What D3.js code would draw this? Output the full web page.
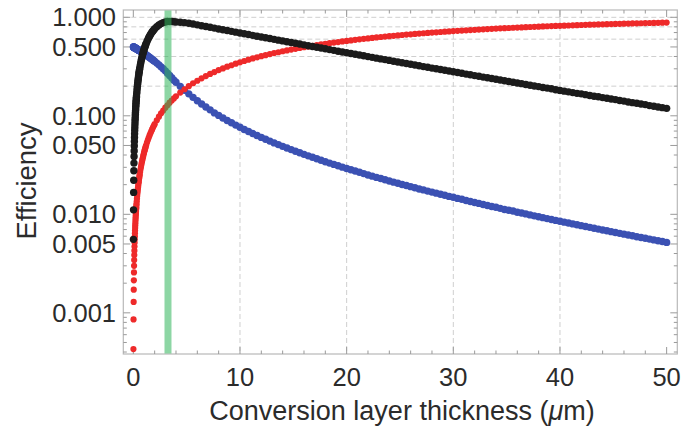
<!DOCTYPE html>
<html>
<head>
<meta charset="utf-8">
<script src="https://cdn.jsdelivr.net/npm/d3@7"></script>
<style>
  body { margin: 0; background: #ffffff; }
  svg { display: block; }
  text { font-family: "Liberation Sans", Arial, sans-serif; fill: #2b2b2b; }
</style>
</head>
<body>
<svg id="chart" width="691" height="430"></svg>
<script>
// Conversion layer thickness in micrometres (finer steps near zero).
const thickness = [
  0.01,0.02,0.03,0.04,0.05,0.06,0.07,0.08,0.09,0.10,0.11,0.12,0.13,0.14,0.15,
  0.16,0.17,0.18,0.19,0.20,0.21,0.22,0.23,0.24,0.25,0.26,0.27,0.28,0.29,0.30,
  0.32,0.34,0.36,0.38,0.40,0.42,0.44,0.46,0.48,0.50,0.52,0.54,0.56,0.58,0.60,
  0.64,0.68,0.72,0.76,0.80,0.84,0.88,0.92,0.96,1.00,1.04,1.08,1.12,1.16,1.20,
  1.28,1.36,1.44,1.52,1.60,1.68,1.76,1.84,1.92,2.00,
  2.2,2.4,2.6,2.8,3.0,3.2,3.4,3.6,3.8,4.0,
  4.4,4.8,5.2,5.6,6.0,6.4,6.8,7.2,7.6,8.0,8.4,8.8,9.2,9.6,10.0,
  10.4,10.8,11.2,11.6,12.0,12.4,12.8,13.2,13.6,14.0,14.4,14.8,15.2,15.6,16.0,
  16.4,16.8,17.2,17.6,18.0,18.4,18.8,19.2,19.6,20.0,
  20.4,20.8,21.2,21.6,22.0,22.4,22.8,23.2,23.6,24.0,24.4,24.8,25.2,25.6,26.0,
  26.4,26.8,27.2,27.6,28.0,28.4,28.8,29.2,29.6,30.0,
  30.4,30.8,31.2,31.6,32.0,32.4,32.8,33.2,33.6,34.0,34.4,34.8,35.2,35.6,36.0,
  36.4,36.8,37.2,37.6,38.0,38.4,38.8,39.2,39.6,40.0,
  40.4,40.8,41.2,41.6,42.0,42.4,42.8,43.2,43.6,44.0,44.4,44.8,45.2,45.6,46.0,
  46.4,46.8,47.2,47.6,48.0,48.4,48.8,49.2,49.6,50.0
];

// Red series: fraction converted in the layer.
const conversion = [
  0.000429,0.000858,0.00129,0.00172,0.00214,0.00257,0.00300,0.00343,0.00386,0.00428,
  0.00471,0.00514,0.00556,0.00599,0.00642,0.00684,0.00727,0.00770,0.00812,0.00855,
  0.00897,0.00940,0.00982,0.0102,0.0107,0.0111,0.0115,0.0119,0.0124,0.0128,
  0.0136,0.0145,0.0153,0.0162,0.0170,0.0179,0.0187,0.0195,0.0204,0.0212,0.0221,0.0229,0.0237,0.0246,0.0254,
  0.0271,0.0288,0.0304,0.0321,0.0338,0.0354,0.0371,0.0387,0.0404,0.0420,0.0437,0.0453,0.0469,0.0486,0.0502,
  0.0535,0.0567,0.0599,0.0632,0.0664,0.0696,0.0728,0.0759,0.0791,0.0823,
  0.0901,0.0979,0.106,0.113,0.121,0.128,0.136,0.143,0.150,0.158,
  0.172,0.186,0.200,0.214,0.227,0.240,0.253,0.266,0.278,0.291,0.303,0.315,0.326,0.338,0.349,
  0.360,0.371,0.382,0.392,0.403,0.413,0.423,0.433,0.442,0.452,0.461,0.470,0.479,0.488,0.497,
  0.505,0.514,0.522,0.530,0.538,0.546,0.554,0.561,0.569,0.576,
  0.583,0.590,0.597,0.604,0.611,0.618,0.624,0.631,0.637,0.643,0.649,0.655,0.661,0.667,0.672,
  0.678,0.683,0.689,0.694,0.699,0.704,0.709,0.714,0.719,0.724,
  0.729,0.733,0.738,0.742,0.747,0.751,0.755,0.759,0.764,0.768,0.772,0.775,0.779,0.783,0.787,
  0.790,0.794,0.797,0.801,0.804,0.808,0.811,0.814,0.817,0.820,
  0.823,0.826,0.829,0.832,0.835,0.838,0.841,0.843,0.846,0.849,0.851,0.854,0.856,0.859,0.861,
  0.864,0.866,0.868,0.870,0.873,0.875,0.877,0.879,0.881,0.883
];

// Blue series: fraction escaping the layer.
const escape = [
  0.499,0.499,0.498,0.497,0.496,0.496,0.495,0.494,0.494,0.493,0.492,0.491,0.491,0.490,0.489,
  0.489,0.488,0.487,0.486,0.486,0.485,0.484,0.484,0.483,0.482,0.481,0.481,0.480,0.479,0.479,
  0.477,0.476,0.474,0.473,0.471,0.470,0.469,0.467,0.466,0.464,0.463,0.461,0.460,0.459,0.457,
  0.454,0.451,0.449,0.446,0.443,0.440,0.437,0.434,0.431,0.429,0.426,0.423,0.420,0.417,0.414,
  0.409,0.403,0.397,0.391,0.386,0.380,0.374,0.369,0.363,0.357,
  0.343,0.329,0.314,0.300,0.286,0.271,0.257,0.243,0.230,0.219,
  0.199,0.182,0.167,0.154,0.142,0.132,0.123,0.115,0.107,0.101,0.0950,0.0897,0.0849,0.0805,0.0765,
  0.0727,0.0693,0.0661,0.0631,0.0604,0.0578,0.0554,0.0531,0.0510,0.0490,0.0471,0.0454,0.0437,0.0421,0.0406,
  0.0392,0.0379,0.0366,0.0354,0.0342,0.0331,0.0321,0.0311,0.0301,0.0292,
  0.0283,0.0275,0.0267,0.0259,0.0251,0.0244,0.0237,0.0231,0.0224,0.0218,0.0212,0.0207,0.0201,0.0196,0.0191,
  0.0186,0.0181,0.0177,0.0172,0.0168,0.0164,0.0160,0.0156,0.0152,0.0149,
  0.0145,0.0142,0.0138,0.0135,0.0132,0.0129,0.0126,0.0123,0.0120,0.0118,0.0115,0.0112,0.0110,0.0108,0.0105,
  0.0103,0.0101,0.00986,0.00965,0.00945,0.00925,0.00905,0.00887,0.00868,0.00850,
  0.00833,0.00816,0.00799,0.00783,0.00767,0.00752,0.00737,0.00722,0.00708,0.00694,0.00680,0.00667,0.00654,0.00641,0.00629,
  0.00617,0.00605,0.00593,0.00582,0.00571,0.00560,0.00550,0.00539,0.00529,0.00519
];

// Black series: overall (scaled) efficiency.
const overall = [
  0.00557,0.0111,0.0167,0.0222,0.0277,0.0331,0.0386,0.0440,0.0495,0.0549,
  0.0603,0.0656,0.0710,0.0763,0.0816,0.0869,0.0922,0.0975,0.103,0.108,
  0.113,0.118,0.124,0.129,0.134,0.139,0.144,0.149,0.154,0.159,
  0.169,0.179,0.189,0.199,0.209,0.218,0.228,0.237,0.247,0.256,0.266,0.275,0.284,0.293,0.302,
  0.320,0.338,0.355,0.372,0.389,0.405,0.421,0.437,0.453,0.468,0.483,0.498,0.512,0.527,0.541,
  0.568,0.594,0.619,0.643,0.666,0.687,0.708,0.728,0.746,0.764,
  0.803,0.836,0.863,0.883,0.897,0.906,0.908,0.905,0.901,0.897,
  0.890,0.882,0.870,0.854,0.838,0.822,0.807,0.792,0.777,0.762,0.748,0.734,0.720,0.707,0.694,
  0.681,0.668,0.656,0.643,0.632,0.620,0.609,0.597,0.586,0.576,0.565,0.555,0.545,0.535,0.525,
  0.515,0.506,0.497,0.488,0.479,0.470,0.462,0.453,0.445,0.437,
  0.429,0.422,0.414,0.407,0.399,0.392,0.385,0.378,0.372,0.365,0.358,0.352,0.346,0.340,0.334,
  0.328,0.322,0.316,0.311,0.305,0.300,0.295,0.290,0.285,0.280,
  0.275,0.270,0.265,0.261,0.256,0.252,0.247,0.243,0.239,0.235,0.231,0.227,0.223,0.219,0.215,
  0.212,0.208,0.204,0.201,0.198,0.194,0.191,0.188,0.184,0.181,
  0.178,0.175,0.172,0.169,0.167,0.164,0.161,0.158,0.156,0.153,0.151,0.148,0.146,0.143,0.141,
  0.138,0.136,0.134,0.132,0.130,0.127,0.125,0.123,0.121,0.119
];

// Marked optimum thickness (green band).
const optimumThickness = 3.25;

// Axis ticks and labels.
const xTickValues = [0, 10, 20, 30, 40, 50];
const xTickLabels = ["0", "10", "20", "30", "40", "50"];
const yTickValues = [0.001, 0.005, 0.01, 0.05, 0.1, 0.5, 1];
const yTickLabels = ["0.001", "0.005", "0.010", "0.050", "0.100", "0.500", "1.000"];
const xGridValues = [10, 20, 30, 40];
const yGridValues = [0.2, 0.4, 0.6, 0.8, 1.0];

const xTitle = "Conversion layer thickness (";
const xTitleUnit = "\u03bc";
const xTitleEnd = "m)";
const yTitle = "Efficiency";

const svg = d3.select("#chart");
const frame = { left: 123.3, right: 677.3, top: 10, bottom: 354 };

const x = d3.scaleLinear().domain([-0.94, 51]).range([frame.left, frame.right]);
const y = d3.scaleLog().domain([3.82e-4, 1.186]).range([frame.bottom, frame.top]);

const plot = svg.append("g");

// Dashed grid
plot.selectAll("line.vgrid").data(xGridValues).join("line")
  .attr("class", "vgrid")
  .attr("x1", d => x(d)).attr("x2", d => x(d))
  .attr("y1", frame.top).attr("y2", frame.bottom)
  .attr("stroke", "#cfcfcf").attr("stroke-width", 1)
  .attr("stroke-dasharray", "5,3");
plot.selectAll("line.hgrid").data(yGridValues).join("line")
  .attr("class", "hgrid")
  .attr("x1", frame.left).attr("x2", frame.right)
  .attr("y1", d => y(d)).attr("y2", d => y(d))
  .attr("stroke", "#cfcfcf").attr("stroke-width", 1)
  .attr("stroke-dasharray", "5,3");

// Frame
plot.append("rect")
  .attr("x", frame.left).attr("y", frame.top)
  .attr("width", frame.right - frame.left).attr("height", frame.bottom - frame.top)
  .attr("fill", "none").attr("stroke", "#b8b8b8").attr("stroke-width", 1.2);

// Ticks on all four sides, pointing inward
const xMinor = d3.range(0, 51, 2).filter(v => v % 10 !== 0);
const yMinor = [];
for (let e = -4; e <= 0; e++) {
  for (let k = 1; k <= 9; k++) {
    const v = k * Math.pow(10, e);
    if (v >= y.domain()[0] && v <= y.domain()[1] && !yTickValues.some(t => Math.abs(t - v) < v * 1e-6)) yMinor.push(v);
  }
}
const tickColor = "#9a9a9a";
function xTicks(values, len) {
  values.forEach(v => {
    plot.append("line").attr("x1", x(v)).attr("x2", x(v))
      .attr("y1", frame.bottom).attr("y2", frame.bottom - len)
      .attr("stroke", tickColor).attr("stroke-width", 1);
    plot.append("line").attr("x1", x(v)).attr("x2", x(v))
      .attr("y1", frame.top).attr("y2", frame.top + len)
      .attr("stroke", tickColor).attr("stroke-width", 1);
  });
}
function yTicks(values, len) {
  values.forEach(v => {
    plot.append("line").attr("x1", frame.left).attr("x2", frame.left + len)
      .attr("y1", y(v)).attr("y2", y(v))
      .attr("stroke", tickColor).attr("stroke-width", 1);
    plot.append("line").attr("x1", frame.right).attr("x2", frame.right - len)
      .attr("y1", y(v)).attr("y2", y(v))
      .attr("stroke", tickColor).attr("stroke-width", 1);
  });
}
xTicks(xTickValues, 7);
xTicks(xMinor, 3.5);
yTicks(yTickValues, 7);
yTicks(yMinor, 3.5);

// Tick labels
svg.selectAll("text.xlab").data(xTickValues).join("text")
  .attr("class", "xlab")
  .attr("x", d => x(d)).attr("y", 386)
  .attr("text-anchor", "middle")
  .attr("font-size", 25.5)
  .text((d, i) => xTickLabels[i]);
svg.selectAll("text.ylab").data(yTickValues).join("text")
  .attr("class", "ylab")
  .attr("x", 116).attr("y", d => y(d))
  .attr("dy", "0.35em")
  .attr("text-anchor", "end")
  .attr("font-size", 25.5)
  .text((d, i) => yTickLabels[i]);

// Axis titles
const xt = svg.append("text")
  .attr("x", 402).attr("y", 420)
  .attr("text-anchor", "middle")
  .attr("font-size", 27);
xt.append("tspan").text(xTitle);
xt.append("tspan").attr("font-style", "italic").text(xTitleUnit);
xt.append("tspan").text(xTitleEnd);

svg.append("text")
  .attr("transform", "translate(36,181) rotate(-90)")
  .attr("text-anchor", "middle")
  .attr("font-size", 27.5)
  .text(yTitle);

// Points
const rows = thickness.map((t, i) => ({ t, conversion: conversion[i], escape: escape[i], overall: overall[i] }));
const series = [
  { key: "escape", color: "#3b51b3", r: 3.7 },
  { key: "conversion", color: "#ee2a2a", r: 3.1 },
  { key: "overall", color: "#1b1b1b", r: 3.7 }
];
series.forEach(s => {
  plot.append("g").selectAll("circle").data(rows).join("circle")
    .attr("cx", d => x(d.t))
    .attr("cy", d => y(d[s.key]))
    .attr("r", s.r)
    .attr("fill", s.color);
});

// Optimum thickness band
plot.append("line")
  .attr("x1", x(optimumThickness)).attr("x2", x(optimumThickness))
  .attr("y1", frame.top + 0.6).attr("y2", frame.bottom - 0.6)
  .attr("stroke", "#2fb45a").attr("stroke-opacity", 0.55)
  .attr("stroke-width", 7);
</script>
</body>
</html>
